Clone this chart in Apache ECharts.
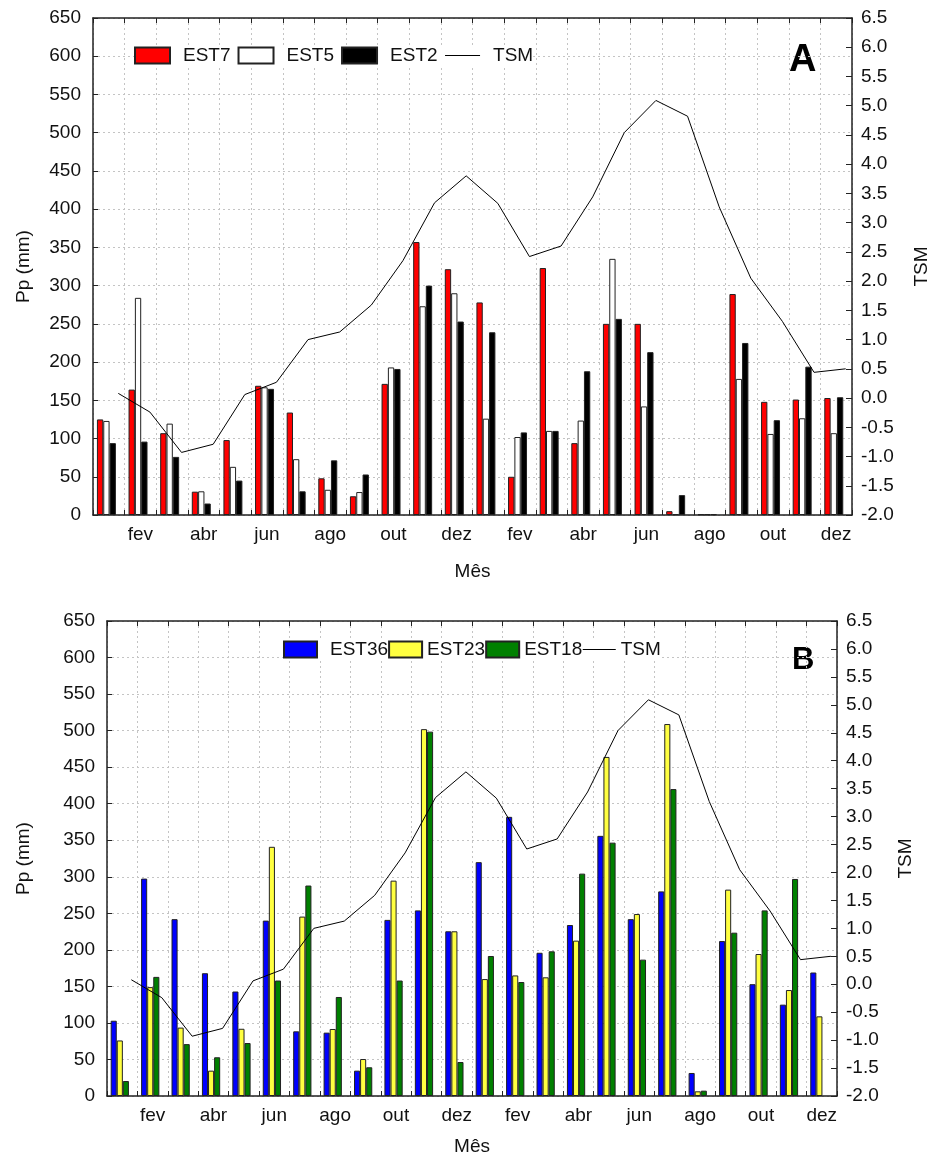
<!DOCTYPE html>
<html>
<head>
<meta charset="utf-8">
<script src="https://cdn.jsdelivr.net/npm/echarts@6/dist/echarts.min.js"></script>
<style>
  html, body { margin: 0; padding: 0; background: #fff; }
  #chart { width: 936px; height: 1157px; }
</style>
</head>
<body>
<div id="chart"></div>
<script>
const months = ['jan','fev','mar','abr','mai','jun','jul','ago','set','out','nov','dez',
                'jan','fev','mar','abr','mai','jun','jul','ago','set','out','nov','dez'];
const leftTicks = [0, 650, 50];
const rightTicks = [-2, 6.5, 0.5];

// Panel A
const est7 = [125,164,107,30.5,98,169,134,48,24.5,171.5,357,321.5,278,50,323,94,250,250,5,1,289,148,151,153];
const est5 = [123,284,119.5,31,63,167,73,33,30,193,273,290,126,102,110,123.5,335,142,1,1,178,106,126.5,107];
const est2 = [94,96,76,15,45,165,31,71.5,53,191,300,253,239,108,110,188,256.5,213,26,1,225,124,194,154];
// Panel B
const est36 = [103,297.5,242,168,143,240,88.5,86.7,34.7,241,254,225.4,320,382,196,234,356,242,280,31.5,212,153,125,169];
const est23 = [76,149,93.6,34.7,92,341,245.5,91.7,50.6,294.7,502,225.4,160,165,162.4,212.6,464,249,509,6.4,282.4,194.3,145,109];
const est18 = [20.5,163,71,53,72.5,158,288,135.5,39.3,158,498.6,46.5,191.6,156,198,304.3,346.7,186.6,420,7.3,223.5,254,297,null];
// TSM (same for both panels)
const tsm = [0.08,-0.24,-0.93,-0.79,0.06,0.27,1.00,1.13,1.59,2.35,3.34,3.80,3.33,2.42,2.60,3.44,4.54,5.09,4.82,3.27,2.05,1.31,0.44,0.50];

const FONT = "'Liberation Sans', Arial, sans-serif";
const lineOffset = 0.3;

const chart = echarts.init(document.getElementById('chart'), null, {renderer: 'canvas'});

function catAxis(grid, pos, showLabel, nameGap) {
  return {
    type: 'category', gridIndex: grid, data: months, position: pos,
    boundaryGap: true,
    name: showLabel ? 'Mês' : '', nameLocation: 'middle', nameGap: nameGap,
    nameTextStyle: {fontFamily: FONT, fontSize: 19, color: '#111'},
    axisLine: {show: true, onZero: false, lineStyle: {color: '#222', width: 1.5}},
    axisTick: {show: true, inside: true, length: 5, interval: 0, lineStyle: {color: '#222'}},
    axisLabel: {show: showLabel, interval: (i) => i % 2 === 1, margin: 10,
                fontFamily: FONT, fontSize: 19, color: '#111'},
    splitLine: {show: showLabel, interval: 0, lineStyle: {color: '#c4c4c4', type: [2, 3], width: 1}}
  };
}
function hiddenCat(grid) {
  return {type: 'category', gridIndex: grid, data: months, boundaryGap: true, show: false};
}
function hiddenVal(grid) {
  return {type: 'value', gridIndex: grid, show: false, min: leftTicks[0], max: leftTicks[1]};
}
function lineXAxis(grid) {
  return {type: 'value', gridIndex: grid, show: false,
          min: -0.5 - lineOffset, max: months.length - 0.5 - lineOffset};
}
function leftAxis(grid, gap) {
  return {
    type: 'value', gridIndex: grid, position: 'left',
    min: leftTicks[0], max: leftTicks[1], interval: leftTicks[2],
    name: 'Pp (mm)', nameLocation: 'middle', nameGap: gap,
    nameTextStyle: {fontFamily: FONT, fontSize: 19, color: '#111'},
    axisLine: {show: true, onZero: false, lineStyle: {color: '#222', width: 1.5}},
    axisTick: {show: true, inside: true, length: 5, lineStyle: {color: '#222'}},
    axisLabel: {fontFamily: FONT, fontSize: 19, color: '#111', margin: 12},
    splitLine: {show: true, lineStyle: {color: '#c4c4c4', type: [2, 3], width: 1}}
  };
}
function rightAxis(grid, gap) {
  return {
    type: 'value', gridIndex: grid, position: 'right',
    min: rightTicks[0], max: rightTicks[1], interval: rightTicks[2],
    name: 'TSM', nameLocation: 'middle', nameGap: gap,
    nameTextStyle: {fontFamily: FONT, fontSize: 19, color: '#111'},
    axisLine: {show: true, onZero: false, lineStyle: {color: '#222', width: 1.5}},
    axisTick: {show: true, inside: true, length: 6, lineStyle: {color: '#222'}},
    axisLabel: {fontFamily: FONT, fontSize: 19, color: '#111', margin: 9,
                formatter: (v) => v.toFixed(1)},
    splitLine: {show: false}
  };
}
function barSeries(name, data, color, xi, yi) {
  return {
    name, type: 'bar', data, xAxisIndex: xi, yAxisIndex: yi,
    barWidth: '20%', barGap: '0%',
    itemStyle: {color, borderColor: '#222', borderWidth: 1},
    emphasis: {disabled: true}, animation: false
  };
}
function tsmSeries(xi, yi) {
  return {
    name: 'TSM', type: 'line', xAxisIndex: xi, yAxisIndex: yi,
    data: tsm.map((v, i) => [i, v]),
    symbol: 'none', lineStyle: {color: '#000', width: 1}, itemStyle: {color: '#000'},
    z: 5, animation: false
  };
}
const txt = (pl) => ({fontFamily: FONT, fontSize: 19, color: '#111', padding: [0, 0, 0, pl]});
const tsmLegend = {name: 'TSM', itemStyle: {opacity: 0}, lineStyle: {width: 1, color: '#000'}};
const g = (left, top, width, height) => ({left, top, width, height, outerBoundsMode: 'none', containLabel: false});

const option = {
  backgroundColor: '#fff',
  animation: false,
  grid: [
    g(93, 18, 759, 497),
    g(107, 621, 730, 475),
    g(90.6, 18, 759, 497),
    g(104.6, 621, 730, 475)
  ],
  legend: [
    {data: [{name: 'EST7', icon: 'rect'}, {name: 'EST5', icon: 'rect'}, {name: 'EST2', icon: 'rect'}, tsmLegend],
     left: 134, top: 46, padding: 0, itemWidth: 35, itemHeight: 16,
     itemGap: 7, textStyle: txt(8), selectedMode: false, backgroundColor: '#fff'},
    {data: [{name: 'EST36', icon: 'rect', textStyle: txt(8)}, {name: 'EST23', icon: 'rect'},
            {name: 'EST18', icon: 'rect'}, tsmLegend],
     left: 283, top: 640, padding: 0, itemWidth: 33, itemHeight: 16,
     itemGap: 0, textStyle: txt(0), selectedMode: false, backgroundColor: '#fff'}
  ],
  xAxis: [
    catAxis(0, 'bottom', true, 47), catAxis(0, 'top', false, 0), lineXAxis(0), hiddenCat(2),
    catAxis(1, 'bottom', true, 41), catAxis(1, 'top', false, 0), lineXAxis(1), hiddenCat(3)
  ],
  yAxis: [
    leftAxis(0, 60), rightAxis(0, 60), hiddenVal(2),
    leftAxis(1, 74), rightAxis(1, 59), hiddenVal(3)
  ],
  series: [
    barSeries('EST7', est7, '#ff0000', 3, 2),
    barSeries('EST5', est5, '#ffffff', 3, 2),
    barSeries('EST2', est2, '#000000', 3, 2),
    tsmSeries(2, 1),
    barSeries('EST36', est36, '#0000ff', 7, 5),
    barSeries('EST23', est23, '#ffff40', 7, 5),
    barSeries('EST18', est18, '#008000', 7, 5),
    tsmSeries(6, 4)
  ],
  graphic: [
    {type: 'text', left: 789, top: 42, style: {text: 'A', fontFamily: FONT, fontSize: 38, fontWeight: 'bold', fill: '#000'}},
    {type: 'text', left: 792, top: 645, style: {text: 'B', fontFamily: FONT, fontSize: 31, fontWeight: 'bold', fill: '#000'}}
  ]
};
chart.setOption(option);
</script>
</body>
</html>
